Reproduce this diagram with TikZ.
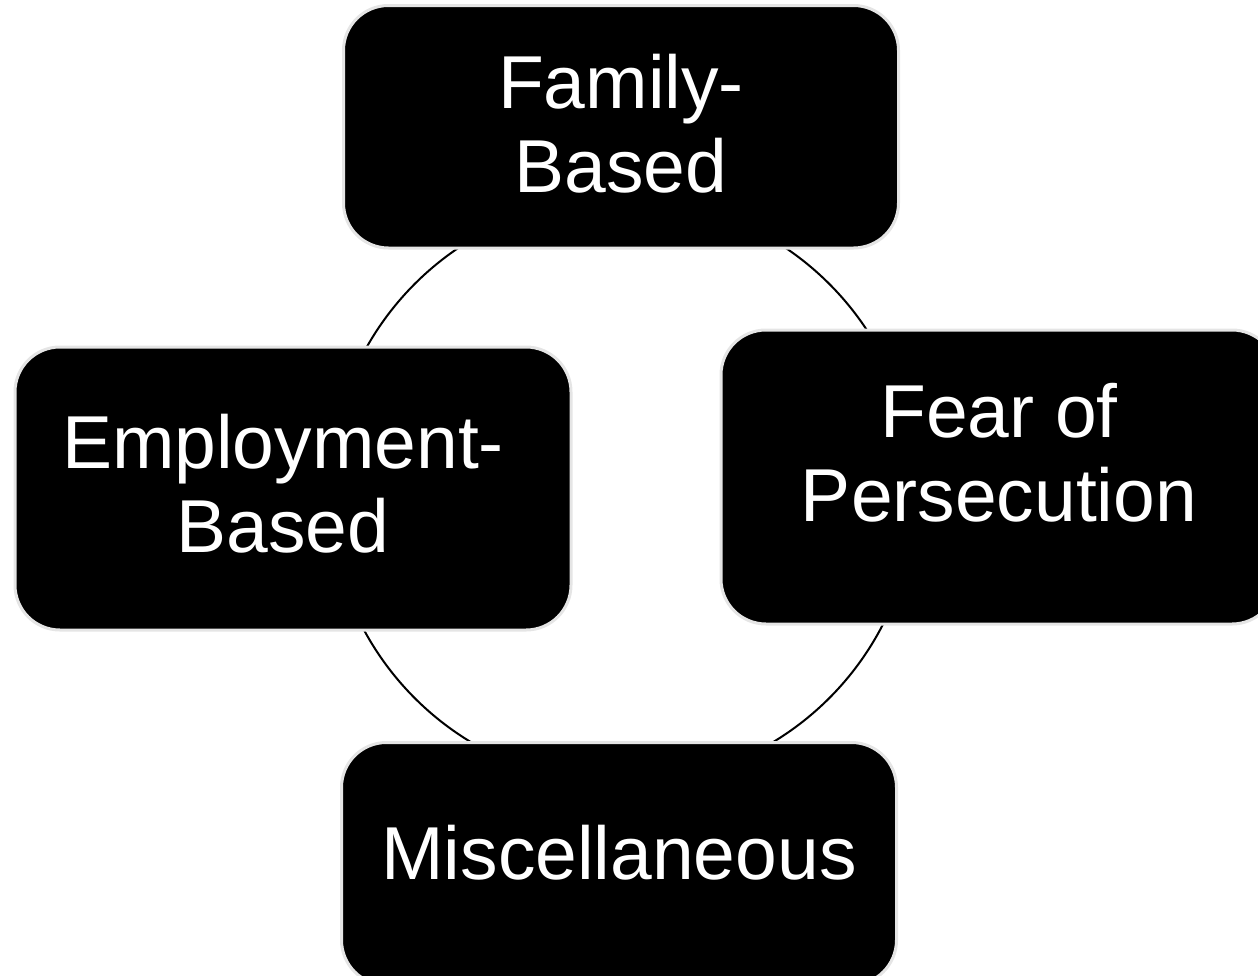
\documentclass[tikz,border=0pt]{standalone}
\usepackage{fontspec}
\setmainfont{Liberation Sans}
\begin{document}
\begin{tikzpicture}[x=1pt,y=-1pt,
  box/.style={rectangle, rounded corners=45pt, fill=black, draw=black!10, line width=3pt, inner sep=0pt},
  lbl/.style={text=white, align=center, inner sep=0pt, font=\fontsize{75}{84}\selectfont},
  ring/.style={draw=black, line width=2pt}]
\useasboundingbox (0,0) rectangle (1258,975);
\clip (0,0) rectangle (1258,975);
% background cycle
\coordinate (c) at (622,491);
\draw[ring] (c) circle (293pt);
% boxes
\node[box, minimum width=555pt, minimum height=242.5pt] (fam) at (621,126.75) {};
\node[box, minimum width=556pt, minimum height=283pt] (emp) at (293,488.5) {};
\node[box, minimum width=556pt, minimum height=294pt] (fear) at (999,477) {};
\node[box, minimum width=555pt, minimum height=242.5pt] (misc) at (619,863.75) {};
% labels
\node[lbl] (famT) at ([yshift=3pt]fam.center) {Family-\\Based};
\node[lbl] (empT) at ([xshift=-10pt,yshift=5pt]emp.center) {Employment-\\Based};
\node[lbl] (fearT) at ([yshift=24pt]fear.center) {Fear of\\Persecution};
\node[lbl, anchor=base] (miscT) at ([yshift=-16pt]misc.center) {Miscellaneous};
\end{tikzpicture}
\end{document}
